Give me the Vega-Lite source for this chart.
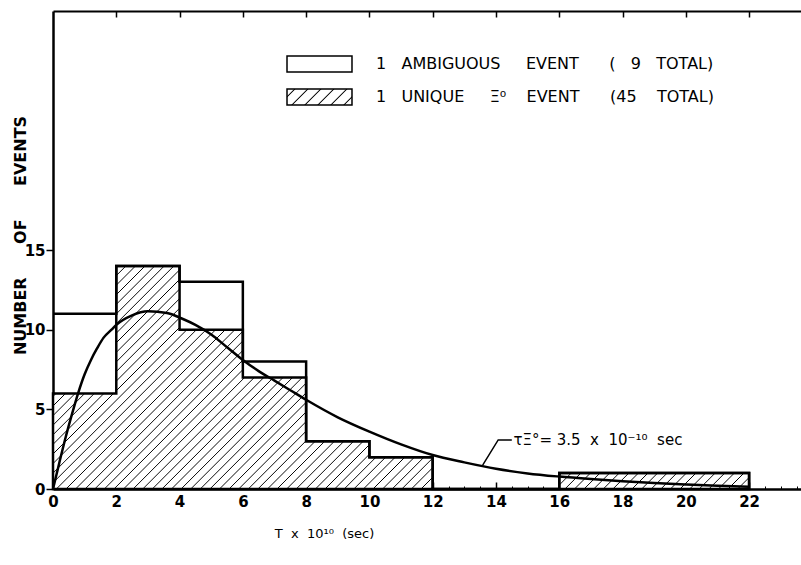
{
  "$schema": "https://vega.github.io/schema/vega-lite/v6.json",
  "width": 748,
  "height": 478,
  "autosize": {"type": "none"},
  "padding": {"left": 53, "top": 11, "right": 0, "bottom": 76},
  "background": "white",
  "config": {
    "view": {"stroke": null},
    "font": "DejaVu Sans",
    "axis": {"labelFont": "DejaVu Sans", "titleFont": "DejaVu Sans", "labelColor": "black", "titleColor": "black", "tickColor": "black", "domainColor": "black", "grid": false},
    "text": {"font": "DejaVu Sans"}
  },
  "datasets": {
    "hist": [
      {"t": 0, "total": 11, "unique": 6},
      {"t": 2, "total": 14, "unique": 14},
      {"t": 4, "total": 13, "unique": 10},
      {"t": 6, "total": 8, "unique": 7},
      {"t": 8, "total": 3, "unique": 3},
      {"t": 10, "total": 2, "unique": 2},
      {"t": 12, "total": 0, "unique": 0},
      {"t": 14, "total": 0, "unique": 0},
      {"t": 16, "total": 1, "unique": 1},
      {"t": 18, "total": 1, "unique": 1},
      {"t": 20, "total": 1, "unique": 1},
      {"t": 22, "total": 0, "unique": 0}
    ],
    "curve": [
      {"t": 0, "n": 0}, {"t": 0.2, "n": 1.65}, {"t": 0.4, "n": 3.25}, {"t": 0.6, "n": 4.7},
      {"t": 0.8, "n": 6.05}, {"t": 1.0, "n": 7.2}, {"t": 1.2, "n": 8.1}, {"t": 1.4, "n": 8.85},
      {"t": 1.6, "n": 9.5}, {"t": 1.85, "n": 10.0}, {"t": 2.0, "n": 10.3}, {"t": 2.5, "n": 10.9},
      {"t": 3.0, "n": 11.15}, {"t": 3.6, "n": 11.05},
      {"t": 4.07, "n": 10.7}, {"t": 4.5, "n": 10.3}, {"t": 5.0, "n": 9.7}, {"t": 5.5, "n": 8.9},
      {"t": 6.0, "n": 8.1}, {"t": 6.5, "n": 7.4}, {"t": 7.0, "n": 6.8}, {"t": 7.5, "n": 6.2},
      {"t": 8.0, "n": 5.6}, {"t": 9.0, "n": 4.5}, {"t": 10.0, "n": 3.6}, {"t": 11.0, "n": 2.8},
      {"t": 12.0, "n": 2.13}, {"t": 13.0, "n": 1.67}, {"t": 14.0, "n": 1.27}, {"t": 15.0, "n": 0.98},
      {"t": 16.0, "n": 0.78}, {"t": 17.0, "n": 0.62}, {"t": 18.0, "n": 0.48}, {"t": 19.0, "n": 0.37},
      {"t": 20.0, "n": 0.28}, {"t": 21.0, "n": 0.2}, {"t": 22.0, "n": 0.14}
    ],
    "leader": [{"t": 13.58, "n": 1.5}, {"t": 14.07, "n": 3.08}, {"t": 14.5, "n": 3.08}],
    "note": [{"t": 14.55, "n": 3.08, "label": "τΞ°= 3.5 \u00a0x \u00a010⁻¹⁰ \u00a0sec"}],
    "series": [
      {"series": "1 \u00a0\u00a0AMBIGUOUS \u00a0\u00a0\u00a0\u00a0EVENT \u00a0\u00a0\u00a0\u00a0\u00a0( \u00a0\u00a09 \u00a0\u00a0TOTAL)", "events": 9},
      {"series": "1 \u00a0\u00a0UNIQUE \u00a0\u00a0\u00a0\u00a0Ξ⁰ \u00a0\u00a0\u00a0EVENT \u00a0\u00a0\u00a0\u00a0\u00a0(45 \u00a0\u00a0\u00a0TOTAL)", "events": 45}
    ]
  },
  "layer": [
    {
      "data": {"name": "hist"},
      "mark": {
        "type": "area",
        "interpolate": "step-after",
        "stroke": "black",
        "strokeWidth": 2.5,
        "strokeJoin": "miter",
        "fill": {
          "gradient": "linear", "x1": 0, "y1": 0, "x2": 1.25, "y2": 0.4006,
          "stops": [
            {"offset":0.005,"color":"#fff"},{"offset":0.006,"color":"#000"},{"offset":0.007,"color":"#fff"},
            {"offset":0.015,"color":"#fff"},{"offset":0.016,"color":"#000"},{"offset":0.017,"color":"#fff"},
            {"offset":0.025,"color":"#fff"},{"offset":0.026,"color":"#000"},{"offset":0.027,"color":"#fff"},
            {"offset":0.035,"color":"#fff"},{"offset":0.036,"color":"#000"},{"offset":0.037,"color":"#fff"},
            {"offset":0.045,"color":"#fff"},{"offset":0.046,"color":"#000"},{"offset":0.047,"color":"#fff"},
            {"offset":0.055,"color":"#fff"},{"offset":0.056,"color":"#000"},{"offset":0.057,"color":"#fff"},
            {"offset":0.065,"color":"#fff"},{"offset":0.066,"color":"#000"},{"offset":0.067,"color":"#fff"},
            {"offset":0.075,"color":"#fff"},{"offset":0.076,"color":"#000"},{"offset":0.077,"color":"#fff"},
            {"offset":0.085,"color":"#fff"},{"offset":0.086,"color":"#000"},{"offset":0.087,"color":"#fff"},
            {"offset":0.095,"color":"#fff"},{"offset":0.096,"color":"#000"},{"offset":0.097,"color":"#fff"},
            {"offset":0.105,"color":"#fff"},{"offset":0.106,"color":"#000"},{"offset":0.107,"color":"#fff"},
            {"offset":0.115,"color":"#fff"},{"offset":0.116,"color":"#000"},{"offset":0.117,"color":"#fff"},
            {"offset":0.125,"color":"#fff"},{"offset":0.126,"color":"#000"},{"offset":0.127,"color":"#fff"},
            {"offset":0.135,"color":"#fff"},{"offset":0.136,"color":"#000"},{"offset":0.137,"color":"#fff"},
            {"offset":0.145,"color":"#fff"},{"offset":0.146,"color":"#000"},{"offset":0.147,"color":"#fff"},
            {"offset":0.155,"color":"#fff"},{"offset":0.156,"color":"#000"},{"offset":0.157,"color":"#fff"},
            {"offset":0.165,"color":"#fff"},{"offset":0.166,"color":"#000"},{"offset":0.167,"color":"#fff"},
            {"offset":0.175,"color":"#fff"},{"offset":0.176,"color":"#000"},{"offset":0.177,"color":"#fff"},
            {"offset":0.185,"color":"#fff"},{"offset":0.186,"color":"#000"},{"offset":0.187,"color":"#fff"},
            {"offset":0.195,"color":"#fff"},{"offset":0.196,"color":"#000"},{"offset":0.197,"color":"#fff"},
            {"offset":0.205,"color":"#fff"},{"offset":0.206,"color":"#000"},{"offset":0.207,"color":"#fff"},
            {"offset":0.215,"color":"#fff"},{"offset":0.216,"color":"#000"},{"offset":0.217,"color":"#fff"},
            {"offset":0.225,"color":"#fff"},{"offset":0.226,"color":"#000"},{"offset":0.227,"color":"#fff"},
            {"offset":0.235,"color":"#fff"},{"offset":0.236,"color":"#000"},{"offset":0.237,"color":"#fff"},
            {"offset":0.245,"color":"#fff"},{"offset":0.246,"color":"#000"},{"offset":0.247,"color":"#fff"},
            {"offset":0.255,"color":"#fff"},{"offset":0.256,"color":"#000"},{"offset":0.257,"color":"#fff"},
            {"offset":0.265,"color":"#fff"},{"offset":0.266,"color":"#000"},{"offset":0.267,"color":"#fff"},
            {"offset":0.275,"color":"#fff"},{"offset":0.276,"color":"#000"},{"offset":0.277,"color":"#fff"},
            {"offset":0.285,"color":"#fff"},{"offset":0.286,"color":"#000"},{"offset":0.287,"color":"#fff"},
            {"offset":0.295,"color":"#fff"},{"offset":0.296,"color":"#000"},{"offset":0.297,"color":"#fff"},
            {"offset":0.305,"color":"#fff"},{"offset":0.306,"color":"#000"},{"offset":0.307,"color":"#fff"},
            {"offset":0.315,"color":"#fff"},{"offset":0.316,"color":"#000"},{"offset":0.317,"color":"#fff"},
            {"offset":0.325,"color":"#fff"},{"offset":0.326,"color":"#000"},{"offset":0.327,"color":"#fff"},
            {"offset":0.335,"color":"#fff"},{"offset":0.336,"color":"#000"},{"offset":0.337,"color":"#fff"},
            {"offset":0.345,"color":"#fff"},{"offset":0.346,"color":"#000"},{"offset":0.347,"color":"#fff"},
            {"offset":0.355,"color":"#fff"},{"offset":0.356,"color":"#000"},{"offset":0.357,"color":"#fff"},
            {"offset":0.365,"color":"#fff"},{"offset":0.366,"color":"#000"},{"offset":0.367,"color":"#fff"},
            {"offset":0.375,"color":"#fff"},{"offset":0.376,"color":"#000"},{"offset":0.377,"color":"#fff"},
            {"offset":0.385,"color":"#fff"},{"offset":0.386,"color":"#000"},{"offset":0.387,"color":"#fff"},
            {"offset":0.395,"color":"#fff"},{"offset":0.396,"color":"#000"},{"offset":0.397,"color":"#fff"},
            {"offset":0.405,"color":"#fff"},{"offset":0.406,"color":"#000"},{"offset":0.407,"color":"#fff"},
            {"offset":0.415,"color":"#fff"},{"offset":0.416,"color":"#000"},{"offset":0.417,"color":"#fff"},
            {"offset":0.425,"color":"#fff"},{"offset":0.426,"color":"#000"},{"offset":0.427,"color":"#fff"},
            {"offset":0.435,"color":"#fff"},{"offset":0.436,"color":"#000"},{"offset":0.437,"color":"#fff"},
            {"offset":0.445,"color":"#fff"},{"offset":0.446,"color":"#000"},{"offset":0.447,"color":"#fff"},
            {"offset":0.455,"color":"#fff"},{"offset":0.456,"color":"#000"},{"offset":0.457,"color":"#fff"},
            {"offset":0.465,"color":"#fff"},{"offset":0.466,"color":"#000"},{"offset":0.467,"color":"#fff"},
            {"offset":0.475,"color":"#fff"},{"offset":0.476,"color":"#000"},{"offset":0.477,"color":"#fff"},
            {"offset":0.485,"color":"#fff"},{"offset":0.486,"color":"#000"},{"offset":0.487,"color":"#fff"},
            {"offset":0.495,"color":"#fff"},{"offset":0.496,"color":"#000"},{"offset":0.497,"color":"#fff"},
            {"offset":0.505,"color":"#fff"},{"offset":0.506,"color":"#000"},{"offset":0.507,"color":"#fff"},
            {"offset":0.515,"color":"#fff"},{"offset":0.516,"color":"#000"},{"offset":0.517,"color":"#fff"},
            {"offset":0.525,"color":"#fff"},{"offset":0.526,"color":"#000"},{"offset":0.527,"color":"#fff"},
            {"offset":0.535,"color":"#fff"},{"offset":0.536,"color":"#000"},{"offset":0.537,"color":"#fff"},
            {"offset":0.545,"color":"#fff"},{"offset":0.546,"color":"#000"},{"offset":0.547,"color":"#fff"},
            {"offset":0.555,"color":"#fff"},{"offset":0.556,"color":"#000"},{"offset":0.557,"color":"#fff"},
            {"offset":0.565,"color":"#fff"},{"offset":0.566,"color":"#000"},{"offset":0.567,"color":"#fff"},
            {"offset":0.575,"color":"#fff"},{"offset":0.576,"color":"#000"},{"offset":0.577,"color":"#fff"},
            {"offset":0.585,"color":"#fff"},{"offset":0.586,"color":"#000"},{"offset":0.587,"color":"#fff"},
            {"offset":0.595,"color":"#fff"},{"offset":0.596,"color":"#000"},{"offset":0.597,"color":"#fff"},
            {"offset":0.605,"color":"#fff"},{"offset":0.606,"color":"#000"},{"offset":0.607,"color":"#fff"},
            {"offset":0.615,"color":"#fff"},{"offset":0.616,"color":"#000"},{"offset":0.617,"color":"#fff"},
            {"offset":0.625,"color":"#fff"},{"offset":0.626,"color":"#000"},{"offset":0.627,"color":"#fff"},
            {"offset":0.635,"color":"#fff"},{"offset":0.636,"color":"#000"},{"offset":0.637,"color":"#fff"},
            {"offset":0.645,"color":"#fff"},{"offset":0.646,"color":"#000"},{"offset":0.647,"color":"#fff"},
            {"offset":0.655,"color":"#fff"},{"offset":0.656,"color":"#000"},{"offset":0.657,"color":"#fff"},
            {"offset":0.665,"color":"#fff"},{"offset":0.666,"color":"#000"},{"offset":0.667,"color":"#fff"},
            {"offset":0.675,"color":"#fff"},{"offset":0.676,"color":"#000"},{"offset":0.677,"color":"#fff"},
            {"offset":0.685,"color":"#fff"},{"offset":0.686,"color":"#000"},{"offset":0.687,"color":"#fff"},
            {"offset":0.695,"color":"#fff"},{"offset":0.696,"color":"#000"},{"offset":0.697,"color":"#fff"},
            {"offset":0.705,"color":"#fff"},{"offset":0.706,"color":"#000"},{"offset":0.707,"color":"#fff"},
            {"offset":0.715,"color":"#fff"},{"offset":0.716,"color":"#000"},{"offset":0.717,"color":"#fff"},
            {"offset":0.725,"color":"#fff"},{"offset":0.726,"color":"#000"},{"offset":0.727,"color":"#fff"},
            {"offset":0.735,"color":"#fff"},{"offset":0.736,"color":"#000"},{"offset":0.737,"color":"#fff"},
            {"offset":0.745,"color":"#fff"},{"offset":0.746,"color":"#000"},{"offset":0.747,"color":"#fff"},
            {"offset":0.755,"color":"#fff"},{"offset":0.756,"color":"#000"},{"offset":0.757,"color":"#fff"},
            {"offset":0.765,"color":"#fff"},{"offset":0.766,"color":"#000"},{"offset":0.767,"color":"#fff"},
            {"offset":0.775,"color":"#fff"},{"offset":0.776,"color":"#000"},{"offset":0.777,"color":"#fff"},
            {"offset":0.785,"color":"#fff"},{"offset":0.786,"color":"#000"},{"offset":0.787,"color":"#fff"},
            {"offset":0.795,"color":"#fff"},{"offset":0.796,"color":"#000"},{"offset":0.797,"color":"#fff"},
            {"offset":0.805,"color":"#fff"},{"offset":0.806,"color":"#000"},{"offset":0.807,"color":"#fff"},
            {"offset":0.815,"color":"#fff"},{"offset":0.816,"color":"#000"},{"offset":0.817,"color":"#fff"},
            {"offset":0.825,"color":"#fff"},{"offset":0.826,"color":"#000"},{"offset":0.827,"color":"#fff"},
            {"offset":0.835,"color":"#fff"},{"offset":0.836,"color":"#000"},{"offset":0.837,"color":"#fff"},
            {"offset":0.845,"color":"#fff"},{"offset":0.846,"color":"#000"},{"offset":0.847,"color":"#fff"},
            {"offset":0.855,"color":"#fff"},{"offset":0.856,"color":"#000"},{"offset":0.857,"color":"#fff"},
            {"offset":0.865,"color":"#fff"},{"offset":0.866,"color":"#000"},{"offset":0.867,"color":"#fff"},
            {"offset":0.875,"color":"#fff"},{"offset":0.876,"color":"#000"},{"offset":0.877,"color":"#fff"},
            {"offset":0.885,"color":"#fff"},{"offset":0.886,"color":"#000"},{"offset":0.887,"color":"#fff"},
            {"offset":0.895,"color":"#fff"},{"offset":0.896,"color":"#000"},{"offset":0.897,"color":"#fff"},
            {"offset":0.905,"color":"#fff"},{"offset":0.906,"color":"#000"},{"offset":0.907,"color":"#fff"},
            {"offset":0.915,"color":"#fff"},{"offset":0.916,"color":"#000"},{"offset":0.917,"color":"#fff"},
            {"offset":0.925,"color":"#fff"},{"offset":0.926,"color":"#000"},{"offset":0.927,"color":"#fff"},
            {"offset":0.935,"color":"#fff"},{"offset":0.936,"color":"#000"},{"offset":0.937,"color":"#fff"},
            {"offset":0.945,"color":"#fff"},{"offset":0.946,"color":"#000"},{"offset":0.947,"color":"#fff"},
            {"offset":0.955,"color":"#fff"},{"offset":0.956,"color":"#000"},{"offset":0.957,"color":"#fff"}
          ]
        }
      },
      "encoding": {
        "x": {
          "field": "t", "type": "quantitative",
          "scale": {"domain": [0, 23.64], "nice": false, "zero": false},
          "axis": {
            "orient": "bottom", "values": [0, 2, 4, 6, 8, 10, 12, 14, 16, 18, 20, 22],
            "tickSize": -7, "tickWidth": 1.5, "domainWidth": 2.5,
            "labelFontSize": 15, "labelFontWeight": "bold", "labelPadding": 12,
            "labelFlush": false, "labelOverlap": false,
            "title": "T \u00a0x \u00a010¹⁰ \u00a0(sec)", "titleFontSize": 13, "titleFontWeight": "normal",
            "titleX": 271, "titleY": 44, "titleAlign": "center", "titleBaseline": "middle"
          }
        },
        "y": {
          "field": "unique", "type": "quantitative",
          "scale": {"domain": [0, 30], "nice": false},
          "axis": {
            "orient": "left", "values": [0, 5, 10, 15],
            "tickSize": 7, "tickWidth": 1.5, "domainWidth": 2.5,
            "labelFontSize": 15, "labelFontWeight": "bold", "labelPadding": 1,
            "title": "NUMBER \u00a0\u00a0\u00a0\u00a0\u00a0OF \u00a0\u00a0\u00a0\u00a0\u00a0EVENTS", "titleFontSize": 16, "titleFontWeight": "bold",
            "titleX": -33, "titleY": 224, "titleAlign": "center", "titleBaseline": "middle"
          }
        }
      }
    },
    {
      "data": {"name": "hist"},
      "mark": {"type": "line", "interpolate": "step-after", "color": "black", "strokeWidth": 2.5, "strokeJoin": "miter"},
      "encoding": {
        "x": {
          "field": "t", "type": "quantitative",
          "scale": {"domain": [0, 23.64], "nice": false, "zero": false},
          "axis": {
            "orient": "bottom",
            "values": [0.5, 1, 1.5, 2.5, 3, 3.5, 4.5, 5, 5.5, 6.5, 7, 7.5, 8.5, 9, 9.5, 10.5, 11, 11.5, 12.5, 13, 13.5, 14.5, 15, 15.5, 16.5, 17, 17.5, 18.5, 19, 19.5, 20.5, 21, 21.5, 22.5, 23, 23.5],
            "tickSize": -3, "tickWidth": 1, "labels": false, "domain": false, "title": null
          }
        },
        "y": {"field": "total", "type": "quantitative", "scale": {"domain": [0, 30], "nice": false}, "axis": null}
      }
    },
    {
      "data": {"name": "curve"},
      "mark": {"type": "line", "interpolate": "monotone", "color": "black", "strokeWidth": 2.5},
      "encoding": {
        "x": {
          "field": "t", "type": "quantitative",
          "scale": {"domain": [0, 23.64], "nice": false, "zero": false},
          "axis": {
            "orient": "top", "values": [2, 4, 6, 8, 10, 12, 14, 16, 18, 20, 22],
            "tickSize": -6, "tickWidth": 1.5, "labels": false, "domain": true, "domainWidth": 2, "title": null
          }
        },
        "y": {"field": "n", "type": "quantitative", "scale": {"domain": [0, 30], "nice": false}, "axis": null}
      }
    },
    {
      "data": {"name": "leader"},
      "mark": {"type": "line", "color": "black", "strokeWidth": 1.5},
      "encoding": {
        "x": {"field": "t", "type": "quantitative", "scale": {"domain": [0, 23.64], "nice": false, "zero": false}, "axis": null},
        "y": {"field": "n", "type": "quantitative", "scale": {"domain": [0, 30], "nice": false}, "axis": null}
      }
    },
    {
      "data": {"name": "note"},
      "mark": {"type": "text", "align": "left", "baseline": "middle", "fontSize": 15, "color": "black"},
      "encoding": {
        "x": {"field": "t", "type": "quantitative", "scale": {"domain": [0, 23.64], "nice": false, "zero": false}, "axis": null},
        "y": {"field": "n", "type": "quantitative", "scale": {"domain": [0, 30], "nice": false}, "axis": null},
        "text": {"field": "label"}
      }
    },
    {
      "data": {"name": "series"},
      "mark": {"type": "point", "filled": true, "opacity": 0},
      "encoding": {
        "shape": {
          "field": "series", "type": "nominal",
          "scale": {
            "domain": [
              "1 \u00a0\u00a0AMBIGUOUS \u00a0\u00a0\u00a0\u00a0EVENT \u00a0\u00a0\u00a0\u00a0\u00a0( \u00a0\u00a09 \u00a0\u00a0TOTAL)",
              "1 \u00a0\u00a0UNIQUE \u00a0\u00a0\u00a0\u00a0Ξ⁰ \u00a0\u00a0\u00a0EVENT \u00a0\u00a0\u00a0\u00a0\u00a0(45 \u00a0\u00a0\u00a0TOTAL)"
            ],
            "range": ["M-2,-0.5H2V0.5H-2Z", "M-2,-0.5H2V0.5H-2Z"]
          },
          "legend": {
            "orient": "none", "legendX": 249.5, "legendY": 36, "padding": 0,
            "title": null,
            "symbolSize": 1056,
            "symbolStrokeColor": "black", "symbolStrokeWidth": 1.5, "symbolOpacity": 1,
            "labelFont": "DejaVu Sans", "labelFontSize": 16, "labelColor": "black",
            "labelOffset": 39.5, "labelLimit": 600, "rowPadding": 4,
            "encoding": {
              "symbols": {
                "stroke": {"value": "black"},
                "strokeWidth": {"value": 1.5},
                "fill": {
                  "condition": {
                    "test": "datum.index === 1",
                    "value": {
                      "gradient": "linear", "x1": 0, "y1": 0, "x2": 1.25, "y2": 0.3125,
                      "stops": [
                        {"offset": 0.0777, "color": "#fff"}, {"offset": 0.0927, "color": "#000"}, {"offset": 0.1077, "color": "#fff"},
                        {"offset": 0.2283, "color": "#fff"}, {"offset": 0.2433, "color": "#000"}, {"offset": 0.2583, "color": "#fff"},
                        {"offset": 0.3788, "color": "#fff"}, {"offset": 0.3938, "color": "#000"}, {"offset": 0.4088, "color": "#fff"},
                        {"offset": 0.5294, "color": "#fff"}, {"offset": 0.5444, "color": "#000"}, {"offset": 0.5594, "color": "#fff"},
                        {"offset": 0.68, "color": "#fff"}, {"offset": 0.695, "color": "#000"}, {"offset": 0.71, "color": "#fff"},
                        {"offset": 0.8306, "color": "#fff"}, {"offset": 0.8456, "color": "#000"}, {"offset": 0.8606, "color": "#fff"}
                      ]
                    }
                  },
                  "value": "white"
                }
              }
            }
          }
        }
      }
    }
  ],
  "resolve": {"axis": {"x": "independent", "y": "independent"}}
}
